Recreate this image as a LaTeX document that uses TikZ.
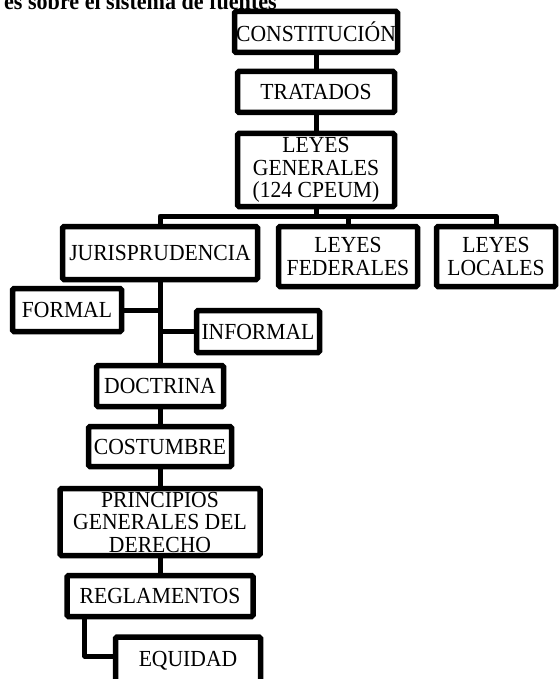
\documentclass[tikz,border=0pt]{standalone}
\usepackage{fontspec}
\setmainfont[FakeStretch=0.94]{Liberation Serif}
\usetikzlibrary{calc}
\begin{document}
\begin{tikzpicture}[x=1pt,y=-1pt,
  box/.style={draw=black, line width=5.5pt, rounded corners=1.5pt, fill=white,
    inner sep=0pt, align=center, font=\fontsize{23}{22.5}\selectfont},
  conn/.style={draw=black, line width=5pt, line join=round}]
\useasboundingbox (0,0) rectangle (559,679);
\clip (0,0) rectangle (559,679);

% heading line, cut by the frame
\node[anchor=base east, inner sep=0pt, font=\fontsize{23.5}{23}\selectfont\bfseries]
  (head) at (277,10) {es sobre el sistema de fuentes};

% main column
\node[box, minimum width=163, minimum height=41] (const) at (316,32) {CONSTITUCIÓN};
\node[box, minimum width=157, minimum height=41] (trat) at (316,92) {TRATADOS};
\node[box, minimum width=157, minimum height=73] (lgen) at (316,170) {LEYES\\GENERALES\\(124 CPEUM)};

% second level
\node[box, minimum width=195, minimum height=53] (juris) at (160,253) {JURISPRUDENCIA};
\node[box, minimum width=139, minimum height=60] (fed) at (348,256.5) {LEYES\\FEDERALES};
\node[box, minimum width=119, minimum height=60] (loc) at (496,256.5) {LEYES\\LOCALES};

% branches of jurisprudence
\node[box, minimum width=109, minimum height=43] (formal) at (67,310) {FORMAL};
\node[box, minimum width=123, minimum height=42] (informal) at (258,331.5) {INFORMAL};

% lower column
\node[box, minimum width=127, minimum height=41] (doct) at (160,386) {DOCTRINA};
\node[box, minimum width=143, minimum height=40] (cost) at (160,446.5) {COSTUMBRE};
\node[box, minimum width=200, minimum height=67] (princ) at (160,522) {PRINCIPIOS\\GENERALES DEL\\DERECHO};
\node[box, minimum width=186, minimum height=41] (regl) at (160,596) {REGLAMENTOS};
\node[box, minimum width=145, minimum height=48] (equi) at (188,661) {EQUIDAD};

% connectors
\coordinate (bus) at (316,216);
\draw[conn] (const.south) -- (trat.north);
\draw[conn] (trat.south) -- (lgen.north);
\draw[conn] (lgen.south) -- (bus);
\draw[conn] (juris.north) |- (bus) -| (loc.north);
\draw[conn] (fed.north) -- (fed.north |- bus);
\draw[conn] (juris.south) -- (doct.north);
\draw[conn] (formal.east) -- (formal.east -| juris.south);
\draw[conn] (informal.west) -- (informal.west -| juris.south);
\draw[conn] (doct.south) -- (cost.north);
\draw[conn] (cost.south) -- (princ.north);
\draw[conn] (princ.south) -- (regl.north);
\coordinate (reglfoot) at ($(regl.south west)+(20.5,0)$);
\draw[conn] (reglfoot) |- ([yshift=5pt]equi.west);
\end{tikzpicture}
\end{document}
